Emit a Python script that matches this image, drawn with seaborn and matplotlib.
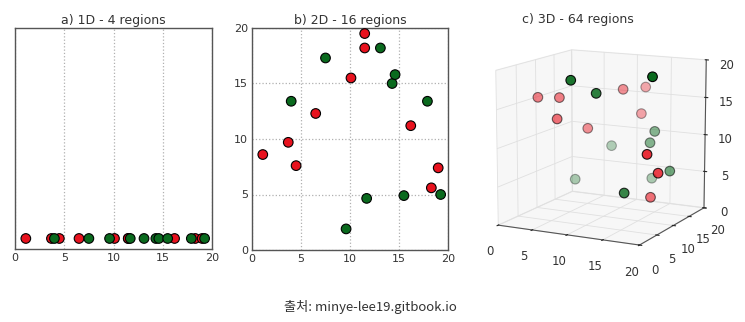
import numpy as np
import pandas as pd
import matplotlib
matplotlib.use("Agg")
import matplotlib.pyplot as plt
import seaborn as sns

# ---- data ----
red_x = [1.1, 3.7, 4.5, 6.5, 10.1, 11.5, 11.5, 16.2, 18.3, 19.0]
red_y = [8.6, 9.7, 7.6, 12.3, 15.5, 19.5, 18.2, 11.2, 5.6, 7.4]
red_z = [15.3, 15.3, 12.9, 11.0, 16.0, 15.8, 12.4, 3.0, 10.0, 7.3]
green_x = [4.0, 7.5, 9.6, 11.7, 13.1, 14.3, 14.6, 15.5, 17.9, 19.25]
green_y = [13.4, 17.3, 1.9, 4.65, 18.2, 15.0, 15.8, 4.9, 13.4, 5.0]
green_z = [3.6, 7.8, 19.2, 17.3, 3.7, 9.3, 10.7, 4.9, 6.2, 19.9]
ticks = [0, 5, 10, 15, 20]
titles = ["a) 1D - 4 regions", "b) 2D - 16 regions", "c) 3D - 64 regions"]
caption = "출처: minye-lee19.gitbook.io"

RED = "#e8121e"
GREEN = "#0a6a1e"

df = pd.DataFrame({
    "x": red_x + green_x,
    "y": red_y + green_y,
    "z": red_z + green_z,
    "cls": ["r"] * len(red_x) + ["g"] * len(green_x),
})
df["zero"] = 0.0
palette = {"r": RED, "g": GREEN}

sns.set_style("white")
plt.rcParams["font.family"] = ["DejaVu Sans"]

W, H = 745, 322
fig = plt.figure(figsize=(W / 100, H / 100), dpi=100)

SPINE = "#555555"
TXT = "#333333"

def px_axes(l, t, r, b, **kw):
    return fig.add_axes([l / W, 1 - b / H, (r - l) / W, (b - t) / H], **kw)

def style2d(ax):
    for s in ax.spines.values():
        s.set_color(SPINE)
        s.set_linewidth(1.0)
    ax.tick_params(direction="in", length=3, color=SPINE, labelsize=8,
                   labelcolor=TXT, pad=3)
    ax.set_xlim(0, 20)
    ax.set_xticks(ticks)
    ax.set_xlabel("")
    ax.set_ylabel("")

# ---- a) 1D ----
ax1 = px_axes(15, 28, 212, 249)
sns.scatterplot(data=df, x="x", y="zero", hue="cls", palette=palette,
                s=48, edgecolor="black", linewidth=0.8, legend=False, ax=ax1,
                zorder=3)
style2d(ax1)
ax1.set_ylim(-0.05, 1.0)
ax1.set_yticks([])
ax1.grid(axis="x", linestyle=":", color="#b0b0b0", linewidth=0.9)
ax1.set_title(titles[0], fontsize=9, color=TXT, pad=3)

# ---- b) 2D ----
ax2 = px_axes(252, 28, 448, 250)
sns.scatterplot(data=df, x="x", y="y", hue="cls", palette=palette,
                s=48, edgecolor="black", linewidth=0.8, legend=False, ax=ax2,
                zorder=3)
style2d(ax2)
ax2.set_ylim(0, 20)
ax2.set_yticks(ticks)
ax2.grid(True, linestyle=":", color="#b0b0b0", linewidth=0.9)
ax2.set_title(titles[1], fontsize=9, color=TXT, pad=3)

# ---- c) 3D ----
ax3 = px_axes(455, 15, 745, 275, projection="3d")
ax3.set_box_aspect((1, 1, 1))
cols = [palette[c] for c in df["cls"]]
ax3.scatter(df["x"], df["y"], df["z"], c=cols, s=48, edgecolors="black",
            linewidths=0.8, depthshade=True)
ax3.set_xlim(0, 20)
ax3.set_ylim(0, 20)
ax3.set_zlim(0, 20)
ax3.set_xticks(ticks)
ax3.set_yticks(ticks)
ax3.set_zticks(ticks)
ax3.view_init(elev=12, azim=-63)
ax3.tick_params(labelsize=8.5, labelcolor=TXT, pad=2)
for axis in (ax3.xaxis, ax3.yaxis, ax3.zaxis):
    axis.set_pane_color((0.95, 0.95, 0.95, 0.6))
    axis._axinfo["grid"]["color"] = (0.88, 0.88, 0.88, 1)
    axis._axinfo["grid"]["linewidth"] = 0.6
    axis.line.set_color(SPINE)
fig.text(578 / W, 1 - 19 / H, titles[2], fontsize=9, color=TXT,
         ha="center", va="center")

# ---- caption ----
fig.text(370 / W, 1 - 307 / H, caption, fontsize=9.5, color="#333333",
         ha="center", va="center",
         family=["Noto Sans CJK KR", "DejaVu Sans"])

fig.savefig("out.png", dpi=100)
